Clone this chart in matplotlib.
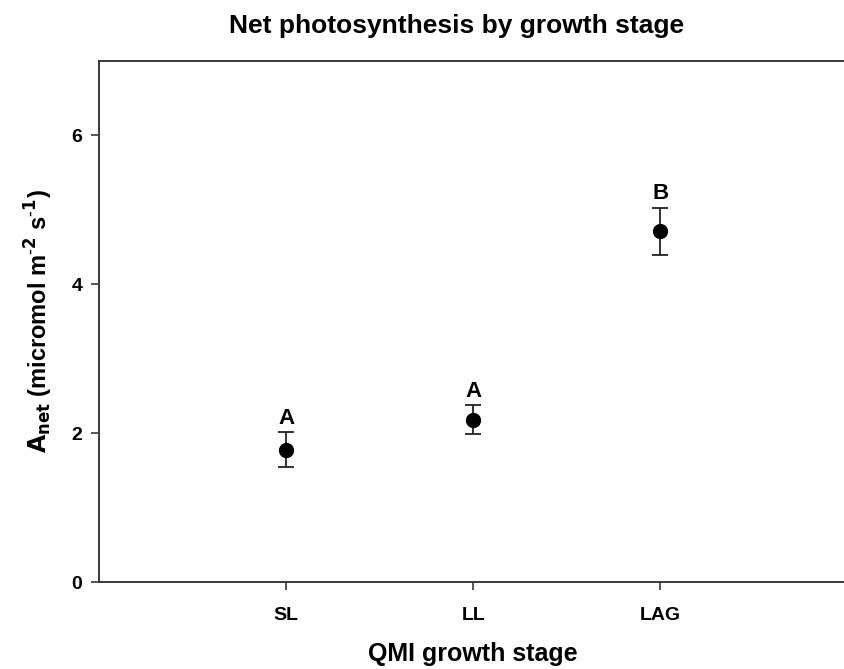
import matplotlib

matplotlib.use("Agg")
import matplotlib.pyplot as plt

plt.rcParams["font.family"] = ["Liberation Sans", "DejaVu Sans"]

stages = ["SL", "LL", "LAG"]
anet_mean = [1.77, 2.18, 4.71]
err_upper = [2.01, 2.38, 5.03]
err_lower = [1.54, 1.99, 4.39]
group_letters = ["A", "A", "B"]
y_ticks = [0, 2, 4, 6]

spine_color = "#3a3a3a"

fig = plt.figure(figsize=(8.45, 6.69), dpi=100)
ax = fig.add_axes([0.117, 0.130, 0.886, 0.779])

xs = list(range(1, len(stages) + 1))
yerr = [
    [m - lo for m, lo in zip(anet_mean, err_lower)],
    [hi - m for m, hi in zip(anet_mean, err_upper)],
]
ax.errorbar(xs, anet_mean, yerr=yerr, fmt="o", color="black", markersize=10,
            ecolor="#222222", elinewidth=1.3, capsize=6, capthick=1.3)

for x, top, letter in zip(xs, err_upper, group_letters):
    ax.text(x, top + 0.11, letter, ha="center", va="baseline",
            fontsize=16, fontweight="bold")

ax.set_xlim(0, 4)
ax.set_ylim(0, 7)
ax.set_xticks(xs)
ax.set_xticklabels(stages)
ax.set_yticks(y_ticks)

for label in ax.get_xticklabels() + ax.get_yticklabels():
    label.set_fontweight("bold")
    label.set_fontsize(14)

ax.tick_params(direction="out", length=6, width=1.2, color=spine_color)
ax.tick_params(axis="y", pad=6)
ax.tick_params(axis="x", pad=12)
for side in ["left", "bottom", "top"]:
    ax.spines[side].set_color(spine_color)
    ax.spines[side].set_linewidth(1.4)
ax.spines["right"].set_visible(False)

ax.set_xlabel("QMI growth stage", fontsize=18, fontweight="bold")
ax.xaxis.set_label_coords(0.5, -0.116)
ax.set_ylabel(r"$\mathbf{A_{net}}$ (micromol m$^{\text{-}\mathbf{2}}$ s$^{\text{-}\mathbf{1}}$)",
              fontsize=17, fontweight="bold")
ax.yaxis.set_label_coords(-0.058, 0.5)

fig.text(0.540, 0.961, "Net photosynthesis by growth stage", ha="center", va="center",
         fontsize=19, fontweight="bold")

fig.savefig("out.png", dpi=100)
